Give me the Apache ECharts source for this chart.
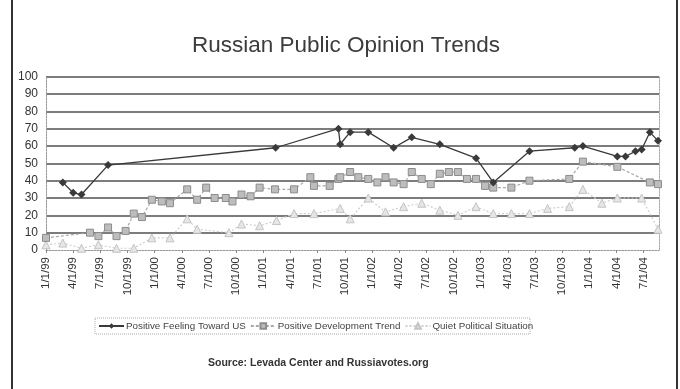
<!DOCTYPE html>
<html>
<head>
<meta charset="utf-8">
<script src="https://cdn.jsdelivr.net/npm/echarts@6/dist/echarts.min.js"></script>
<style>
  html, body { margin: 0; padding: 0; background: #fff; }
  #chart { width: 680px; height: 389px; }
</style>
</head>
<body>
<div id="chart"></div>
<script>
// survey dates and values
const pftDates = ['1999-02-27', '1999-04-01', '1999-04-29', '1999-07-27', '2001-02-12', '2001-09-10', '2001-09-16',
  '2001-10-19', '2001-12-19', '2002-03-13', '2002-05-13', '2002-08-16', '2002-12-16', '2003-02-13', '2003-06-13',
  '2003-11-13', '2003-12-10', '2004-04-04', '2004-05-01', '2004-06-04', '2004-06-25', '2004-07-22', '2004-08-19']
const pftValues = [39, 33, 32, 49, 59, 70, 61, 68, 68, 59, 65, 61, 53, 39, 57, 59, 60, 54, 54, 57, 58, 68, 63]

const pdtDates = ['1999-01-01', '1999-05-27', '1999-06-25', '1999-07-27', '1999-08-25', '1999-09-25', '1999-10-22',
  '1999-11-19', '1999-12-22', '2000-01-25', '2000-02-22', '2000-04-19', '2000-05-22', '2000-06-22', '2000-07-20',
  '2000-08-27', '2000-09-19', '2000-10-19', '2000-11-19', '2000-12-19', '2001-02-10', '2001-04-13', '2001-06-07',
  '2001-06-19', '2001-08-11', '2001-09-10', '2001-09-16', '2001-10-19', '2001-11-16', '2001-12-19', '2002-01-19',
  '2002-02-16', '2002-03-13', '2002-04-16', '2002-05-13', '2002-06-16', '2002-07-16', '2002-08-16', '2002-09-16',
  '2002-10-16', '2002-11-16', '2002-12-16', '2003-01-16', '2003-02-13', '2003-04-13', '2003-06-13', '2003-10-25',
  '2003-12-10', '2004-04-04', '2004-07-22', '2004-08-19']
const pdtValues = [7, 10, 8, 13, 8, 11, 21, 19, 29, 28, 27, 35, 29, 36, 30, 30, 28, 32, 31, 36, 35, 35, 42, 37, 37,
  41, 42, 45, 42, 41, 39, 42, 39, 38, 45, 41, 38, 44, 45, 45, 41, 41, 37, 36, 36, 40, 41, 51, 48, 39, 38]

const qpsDates = ['1999-01-01', '1999-02-27', '1999-04-29', '1999-06-25', '1999-08-25', '1999-10-22', '1999-12-22',
  '2000-02-22', '2000-04-19', '2000-05-22', '2000-09-07', '2000-10-19', '2000-12-19', '2001-02-15', '2001-04-13',
  '2001-06-19', '2001-09-16', '2001-10-19', '2001-12-19', '2002-02-16', '2002-04-16', '2002-06-16', '2002-08-16',
  '2002-10-16', '2002-12-16', '2003-02-13', '2003-04-13', '2003-06-13', '2003-08-13', '2003-10-25', '2003-12-10',
  '2004-02-13', '2004-04-04', '2004-06-25', '2004-08-19']
const qpsValues = [3, 4, 1, 3, 1, 1, 7, 7, 18, 12, 10, 15, 14, 17, 21, 21, 24, 18, 30, 22, 25, 27, 23, 20, 25, 21,
  21, 21, 24, 25, 35, 27, 30, 30, 12]

const yTicks = [0, 10, 20, 30, 40, 50, 60, 70, 80, 90, 100]

// months since 1/1/99, so the axis can tick every quarter
const toMonth = (d) => {
  const [y, m, day] = d.split('-').map(Number)
  return (y - 1999) * 12 + (m - 1) + (day - 1) / 30.4
}
const pairs = (dates, values) => dates.map((d, i) => [toMonth(d), values[i]])

const monthLabel = (v) => {
  if (Math.abs(v - Math.round(v)) > 0.01 || Math.round(v) % 3 !== 0) return ''
  const m = Math.round(v)
  const yy = (1999 + Math.floor(m / 12)) % 100
  return (m % 12 + 1) + '/1/' + String(yy).padStart(2, '0')
}

const chart = echarts.init(document.getElementById('chart'))
const font = 'Liberation Sans, Arial, sans-serif'

chart.setOption({
  backgroundColor: '#fff',
  animation: false,
  title: {
    text: 'Russian Public Opinion Trends',
    left: 341,
    textAlign: 'center',
    top: 29,
    textStyle: { fontFamily: font, fontSize: 22.5, fontWeight: 'normal', color: '#3c3c3c' },
  },
  legend: {
    left: 98,
    top: 321,
    padding: 0,
    itemGap: 4,
    itemWidth: 25,
    itemHeight: 7,
    textStyle: { fontFamily: font, fontSize: 9.8, color: '#444', padding: [0, 0, 0, -3] },
    data: ['Positive Feeling Toward US', 'Positive Development Trend', 'Quiet Political Situation'],
  },
  grid: { left: 46, right: 21, top: 76.7, bottom: 139, containLabel: false },
  xAxis: {
    type: 'value',
    min: 0,
    max: 67.7,
    interval: 3,
    splitLine: { show: false },
    axisLine: { show: true, lineStyle: { color: '#999', type: [2, 1], width: 1 } },
    axisTick: { show: true, length: 3, lineStyle: { color: '#888' } },
    axisLabel: {
      rotate: 90,
      margin: 7,
      fontFamily: font,
      fontSize: 11.5,
      color: '#333',
      showMaxLabel: false,
      formatter: monthLabel,
    },
  },
  yAxis: [
    {
      type: 'value',
      min: yTicks[0],
      max: yTicks[yTicks.length - 1],
      interval: 10,
      axisLine: { show: true, lineStyle: { color: '#999', type: [2, 1], width: 1 } },
      axisTick: { show: false },
      axisLabel: { fontFamily: font, fontSize: 12, color: '#333', margin: 8 },
      splitLine: {
        lineStyle: {
          color: ['rgba(0,0,0,0)', '#505050', '#505050', '#505050', '#505050', '#505050', '#505050', '#505050',
            '#505050', '#505050', '#505050'],
          width: 1.6,
        },
      },
    },
    {
      type: 'value',
      position: 'right',
      min: 0,
      max: 100,
      interval: 10,
      axisLine: { show: true, lineStyle: { color: '#aaa', type: [2, 1], width: 1 } },
      axisTick: { show: false },
      axisLabel: { show: false },
      splitLine: { show: false },
    },
  ],
  graphic: [
    // scanned page frame
    { type: 'line', shape: { x1: 12, y1: 0, x2: 12, y2: 389 }, style: { stroke: '#333', lineWidth: 2 } },
    { type: 'line', shape: { x1: 677, y1: 0, x2: 677, y2: 389 }, style: { stroke: '#333', lineWidth: 2 } },
    // dotted legend box
    {
      type: 'rect',
      shape: { x: 95, y: 318, width: 435, height: 16 },
      style: { fill: 'none', stroke: '#aaa', lineWidth: 1, lineDash: [1, 1] },
    },
    {
      type: 'text',
      left: 208,
      top: 358,
      style: {
        text: 'Source: Levada Center and Russiavotes.org',
        fontFamily: font,
        fontSize: 10.5,
        fontWeight: 'bold',
        fill: '#333',
      },
    },
  ],
  series: [
    {
      name: 'Positive Feeling Toward US',
      type: 'line',
      data: pairs(pftDates, pftValues),
      symbol: 'diamond',
      symbolSize: 8,
      z: 5,
      lineStyle: { color: '#3a3a3a', width: 1.3 },
      itemStyle: { color: '#3a3a3a' },
    },
    {
      name: 'Positive Development Trend',
      type: 'line',
      data: pairs(pdtDates, pdtValues),
      symbol: 'rect',
      symbolSize: 7,
      z: 4,
      lineStyle: { color: '#a8a8a8', width: 1.2, type: [3, 2] },
      itemStyle: { color: '#bdbdbd', borderColor: '#8c8c8c', borderWidth: 1 },
    },
    {
      name: 'Quiet Political Situation',
      type: 'line',
      data: pairs(qpsDates, qpsValues),
      symbol: 'triangle',
      symbolSize: 8,
      z: 3,
      lineStyle: { color: '#cfcfcf', width: 1.2, type: [2, 2] },
      itemStyle: { color: '#e6e6e6', borderColor: '#c4c4c4', borderWidth: 1 },
    },
  ],
})
</script>
</body>
</html>
